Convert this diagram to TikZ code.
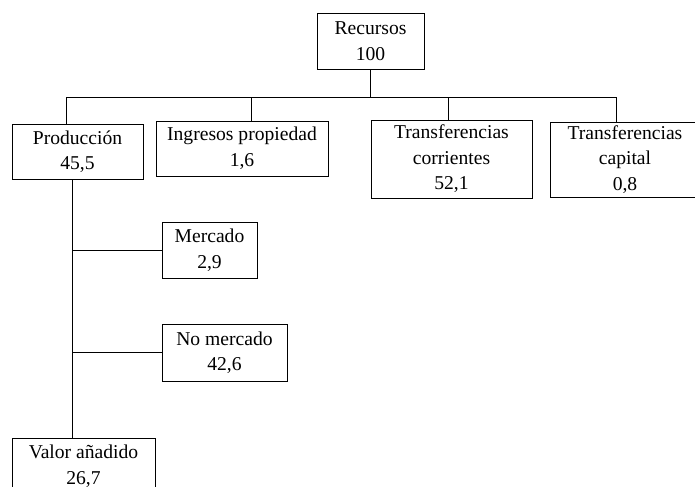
\documentclass[tikz,border=0pt]{standalone}
\usepackage{fontspec}
\setmainfont{Liberation Serif}
\usetikzlibrary{positioning}
\tikzset{caja/.style = {draw, line width=0.75pt, inner sep=0pt, align=center,
                        font=\fontsize{14.7}{19.2}\selectfont}}
\tikzset{linea/.style = {line width=0.75pt}}

\begin{document}
\begin{tikzpicture}[x=0.75pt, y=-0.75pt]
      \useasboundingbox (0, 0) rectangle (695, 486);
      \clip (0, 0) rectangle (695, 486);

      \node [caja, minimum width=80.25pt, minimum height=42pt] (recursos) at (370.5, 41) {Recursos\\100};
      \node [caja, minimum width=98.25pt, minimum height=41.25pt] (produccion) at (77.5, 151.5) {Producción\\45,5};
      \node [caja, minimum width=129pt, minimum height=41.25pt] (ingresos) at (242, 148.5) {Ingresos propiedad\\1,6};
      \node [caja, minimum width=120.75pt, minimum height=58.5pt] (corrientes) at (451.5, 159) {Transferencias\\corrientes\\52,1};
      \node [caja, minimum width=112.5pt, minimum height=56.25pt] (capital) at (625, 159.5) {Transferencias\\capital\\0,8};
      \node [caja, minimum width=71.25pt, minimum height=42pt] (mercado) at (209.5, 250) {Mercado\\2,9};
      \node [caja, minimum width=93.75pt, minimum height=42.75pt] (nomercado) at (224.5, 352.5) {No mercado\\42,6};
      \node [caja, minimum width=107.25pt, minimum height=42pt] (valor) at (83.5, 466) {Valor añadido\\26,7};

      % barra de recursos
      \coordinate (b1) at (66, 97);
      \coordinate (b2) at (251, 97);
      \coordinate (b3) at (448, 97);
      \coordinate (b4) at (616, 97);
      \draw [linea] (recursos.south) -- (recursos.south |- b1);
      \draw [linea] (b1) -- (b4);
      \draw [linea] (b1) -- (b1 |- produccion.north);
      \draw [linea] (b2) -- (b2 |- ingresos.north);
      \draw [linea] (b3) -- (b3 |- corrientes.north);
      \draw [linea] (b4) -- (b4 |- capital.north);

      % produccion
      \coordinate (tronco) at (72, 179);
      \draw [linea] (tronco) -- (tronco |- valor.north);
      \draw [linea] (mercado.west) -- (mercado.west -| tronco);
      \draw [linea] (nomercado.west) -- (nomercado.west -| tronco);
    \end{tikzpicture}
\end{document}
